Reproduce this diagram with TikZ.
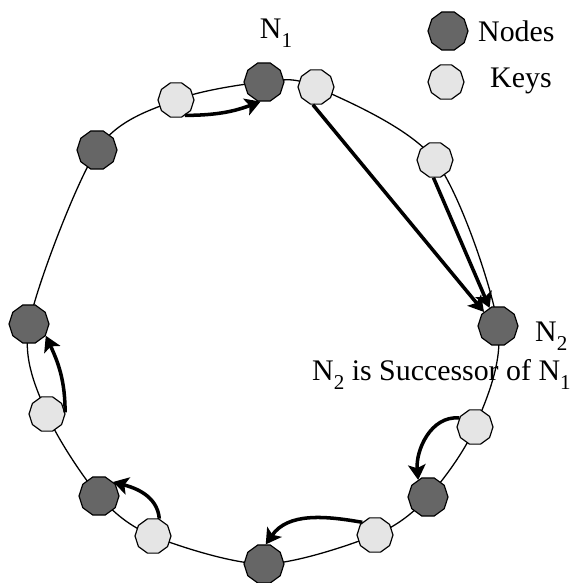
\documentclass[tikz,border=0pt]{standalone}
\usepackage{fontspec}
\setmainfont{Liberation Serif}
\usetikzlibrary{shapes.geometric}
\usetikzlibrary{arrows.meta}
\usetikzlibrary{backgrounds}
\newcommand*{\pxl  }{0.03cm}
\newcommand*{\picw }{579}
\newcommand*{\pich }{583}
\newcommand*{\dsize}{1.2cm}
\newcommand*{\ksize}{1.08cm}
\newcommand*{\low}[1]{\raisebox{-0.3em}{\fontsize{18}{20}\selectfont #1}}
\tikzset{
    peer/.style   = {regular polygon, regular polygon sides=10, draw, line width=1pt,
                     fill=black!60, minimum size=\dsize, inner sep=0pt},
    keybox/.style = {peer, fill=black!10, minimum size=\ksize},
    lookup/.style = {line width=3pt, -{Stealth[length=13pt,width=15pt,inset=3pt]}},
    ring/.style   = {line width=1.1pt},
    txt/.style    = {anchor=base west, inner sep=0pt},
}

\begin{document}
\begin{tikzpicture}[x=\pxl, y=\pxl, font=\fontsize{25.5}{30}\selectfont]
    \useasboundingbox (0,0) rectangle (\picw,\pich);
        % peers and keys round the ring
        \node [peer]   (n1)  at (264,501) {};
        \node [keybox] (k2a) at (316,496) {};
        \node [keybox] (k2b) at (435,423) {};
        \node [peer]   (n2)  at (498,257) {};
        \node [keybox] (k3)  at (475,156) {};
        \node [peer]   (n3)  at (428, 86) {};
        \node [keybox] (k4)  at (375, 48) {};
        \node [peer]   (n4)  at (264, 19) {};
        \node [keybox] (k5)  at (153, 47) {};
        \node [peer]   (n5)  at ( 99, 87) {};
        \node [keybox] (k6)  at ( 47,169) {};
        \node [peer]   (n6)  at ( 29,259) {};
        \node [peer]   (n7)  at ( 97,433) {};
        \node [keybox] (k1)  at (176,483) {};
        \begin{pgfonlayer}{background}
            \draw [ring] plot [smooth cycle] coordinates {(n1.center) (k2a.center) (k2b.center) (n2.center)
                (k3.center) (n3.center) (k4.center) (n4.center) (k5.center) (n5.center)
                (k6.center) (n6.center) (n7.center) (k1.center)};
        \end{pgfonlayer}
        % each key goes to its successor
        \draw [lookup] (k1.-60)   to [bend right=10]    (n1.-100);
        \draw [lookup] (k2a.-100) --                    (n2.135);
        \draw [lookup] (k2b.-95)  --                    (n2.115);
        \draw [lookup] (k3.150)   to [out=175, in=95]   (n3.120);
        \draw [lookup] (k4.135)   to [out=170, in=55]   (n4.85);
        \draw [lookup] (k5.70)    to [out=95,  in=-15]  (n5.45);
        \draw [lookup] (k6.5)     to [out=90,  in=-65]  (n6.-35);
        % labels
        \node [anchor=base, inner sep=0pt] (lab1) at (276,544) {N\low{1}};
        \node [txt] (lab2) at (535,241) {N\low{2}};
        \node [txt] (succ) at (312,202) {N\low{2} is Successor of N\low{1}};
        % legend
        \node [peer]   (lpeer) at (448,552) {};
        \node [txt]    (lpt)   at (478,541) {Nodes};
        \node [keybox] (lkey)  at (446,501) {};
        \node [txt]    (lkt)   at (490,495) {Keys};
    \end{tikzpicture}
\end{document}
